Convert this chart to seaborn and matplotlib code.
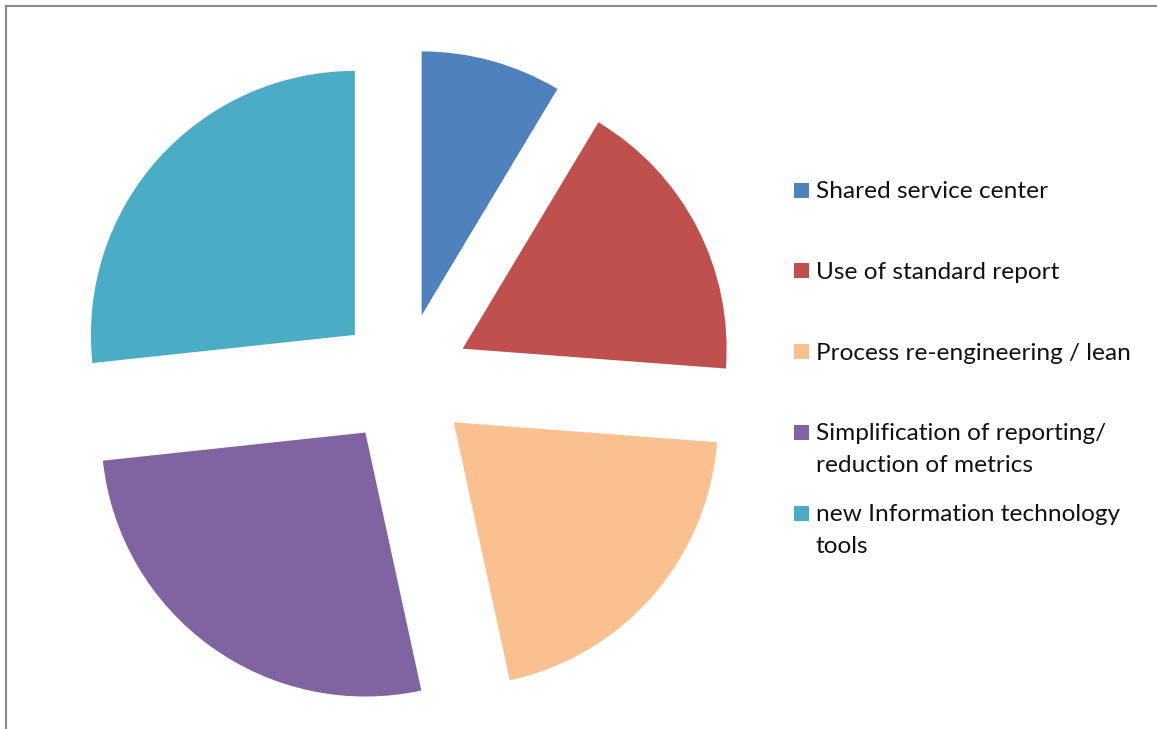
"""Exploded pie of improvement levers, with a legend on the right."""

import matplotlib.pyplot as plt
from matplotlib.lines import Line2D
from matplotlib.patches import Rectangle
import seaborn as sns

# Data (shares, in %)
categories = [
    "Shared service center",
    "Use of standard report",
    "Process re-engineering / lean",
    "Simplification of reporting/\nreduction of metrics",
    "new Information technology\ntools",
]
shares = [8.6, 17.6, 20.4, 26.7, 26.7]
colors = ["#4F81BD", "#C0504D", "#FAC090", "#8064A2", "#4BACC6"]

# Set style
sns.set_theme(style="white")
plt.rcParams["font.family"] = ["Lato", "DejaVu Sans"]

W, H = 1157, 729
R = 264            # pie radius in pixels
CX, CY = 404, 379  # pie centre, pixels from top-left

fig = plt.figure(figsize=(W / 100, H / 100), dpi=100)
ax = fig.add_axes([0, 0, 1, 1])

ax.pie(
    shares,
    colors=colors,
    explode=[0.25] * len(shares),
    startangle=90,
    counterclock=False,
    radius=1,
    wedgeprops={"linewidth": 0},
)
ax.set_aspect("auto")
ax.set_xlim(-CX / R, (W - CX) / R)
ax.set_ylim(-(H - CY) / R, CY / R)
ax.axis("off")

# Legend drawn by hand so that every entry gets the same slot height
x_box, x_text = 794, 816
y0, step, line_h = 190, 80.8, 32
for i, (label, col) in enumerate(zip(categories, colors)):
    y = y0 + i * step
    fig.add_artist(Rectangle(
        (x_box / W, 1 - (y + 7.5) / H), 15 / W, 15 / H,
        transform=fig.transFigure, facecolor=col, edgecolor="none",
    ))
    for k, line in enumerate(label.split("\n")):
        fig.text(
            x_text / W, 1 - (y + 8 + k * line_h) / H, line,
            fontsize=17.6, color="#111111", va="baseline", ha="left",
        )

# Chart area border (only top and left edges fall inside the image)
border = "#898989"
fig.add_artist(Line2D([6 / W, 1], [1 - 6 / H] * 2, transform=fig.transFigure,
                      color=border, linewidth=1.5))
fig.add_artist(Line2D([6 / W] * 2, [0, 1 - 6 / H], transform=fig.transFigure,
                      color=border, linewidth=1.5))

fig.savefig("out.png", dpi=100)
